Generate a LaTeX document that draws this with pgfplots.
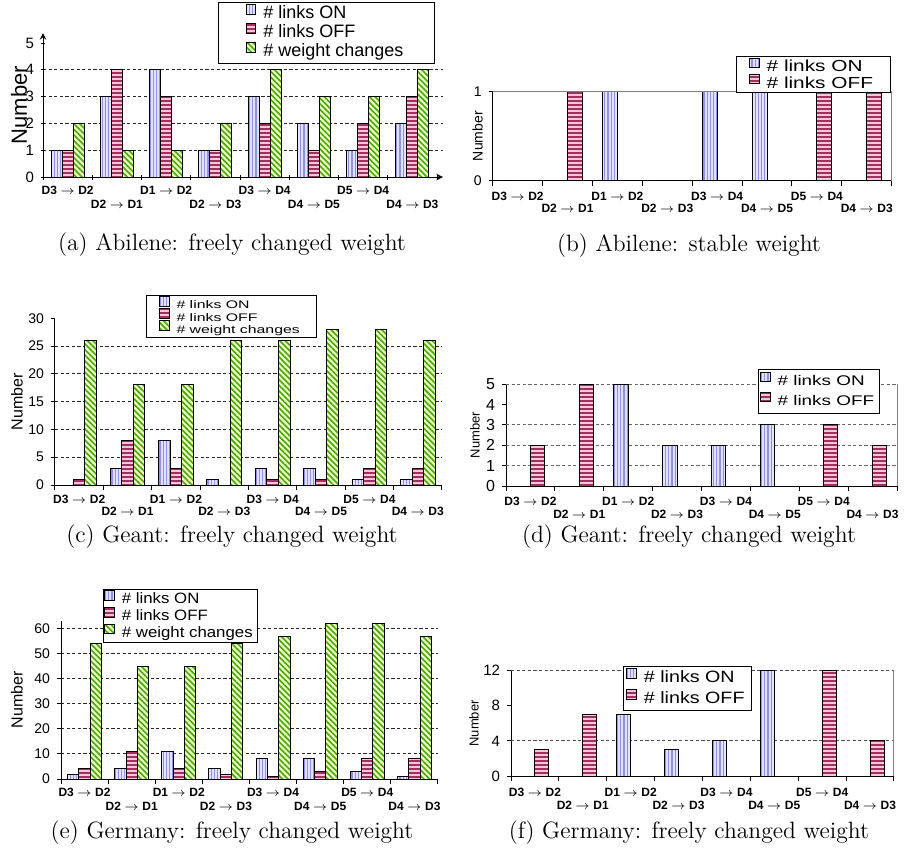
\documentclass[border=0pt]{standalone}
\usepackage{fontspec}
\usepackage{graphicx}
\usepackage{pgfplots}
\pgfplotsset{compat=1.18}
\usetikzlibrary{patterns.meta}
\newfontfamily\arial{Liberation Sans}
\definecolor{onfill}{HTML}{E2E2FF}
\definecolor{online}{HTML}{8F8FE8}
\definecolor{offfill}{HTML}{F4C8DA}
\definecolor{offline}{HTML}{A0305E}
\definecolor{wfill}{HTML}{F0FAC8}
\definecolor{wline}{HTML}{44AA00}
\newcommand{\rowdrop}{6pt}
\newcommand{\legstretch}{1}
\newcommand{\lab}[2]{\raisebox{0pt}[4.3pt][0pt]{#1 $\rightarrow$ #2}}
\newcommand{\lowlab}[2]{\raisebox{-\rowdrop}[4.3pt][0pt]{#1 $\rightarrow$ #2}}
\newcommand{\hs}[1]{\scalebox{\legstretch}[1]{#1}}
\pgfplotsset{
  legimg/.style={legend image code/.code={\draw[##1,/tikz/.cd,yshift=-0.2pt] (0pt,0pt) rectangle (4.8pt,4.8pt); \path (6.3pt,0pt);}},
  on/.style={draw=black, line width=0.5pt, fill=onfill, postaction={pattern={Lines[angle=90,distance=1.6pt,line width=0.55pt]}, pattern color=online}},
  off/.style={draw=black, line width=0.5pt, fill=offfill, postaction={pattern={Lines[angle=0,distance=2pt,line width=0.7pt]}, pattern color=offline}},
  wc/.style={draw=black, line width=0.5pt, fill=wfill, postaction={pattern={Lines[angle=-45,distance=2pt,line width=0.8pt]}, pattern color=wline}},
  ylab/.style={every axis y label/.style={at={([xshift=#1]rel axis cs:0,0.5)},rotate=90,anchor=center}},
  base/.style={
    scale only axis,
    ybar=0pt,
    xmin=-0.5, xmax=7.5, ymin=0,
    xtick={0,...,7},
    xticklabels={\lab{D3}{D2},\lowlab{D2}{D1},\lab{D1}{D2},\lowlab{D2}{D3},\lab{D3}{D4},\lowlab{D4}{D5},\lab{D5}{D4},\lowlab{D4}{D3}},
    minor xtick={-0.5,0.5,...,7.5},
    major x tick style={draw=none},
    minor x tick style={black, line width=0.5pt},
    minor tick length=2.5pt,
    major tick length=2pt,
    tick align=outside,
    ytick style={black, line width=0.5pt},
    xticklabel style={font=\arial\bfseries\fontsize{6}{7}\selectfont, anchor=north, inner sep=0pt},
    yticklabel style={font=\arial\fontsize{7}{8}\selectfont},
    /pgf/number format/assume math mode=true,
    ylabel={Number},
    axis line style={black, line width=0.5pt},
    legend cell align=left,
    legend style={draw=black, line width=0.5pt, fill=white},
    extra y tick style={grid=major},
    extra y tick labels={},
    major grid style={dash pattern=on 1.6pt off 1.2pt, black!85, line width=0.5pt},
    every axis plot post/.append style={legimg},
    clip=false,
  },
}
\newcommand{\capfont}{\fontsize{11.8}{14}\selectfont}
\begin{document}
\begin{tikzpicture}
\useasboundingbox (0,0) rectangle (452pt,-426.5pt);
% ---------------- (a)
\renewcommand{\rowdrop}{7pt}\renewcommand{\legstretch}{1}
\begin{axis}[base, at={(21.5pt,-88.5pt)}, anchor=south west,
  width=200pt, height=72pt, xmax=7.622, ymax=5.373, bar width=5.5pt,
  axis lines=left, ytick={0,...,5}, extra y ticks={1,2,3,4},
  ylab=-12pt, ylabel style={font=\arial\fontsize{11}{12}\selectfont},
  yticklabel style={font=\arial\fontsize{7.5}{8}\selectfont},
  xticklabel style={yshift=-3pt},
  legend style={at={(0.98,1.215)}, anchor=north east, font=\arial\fontsize{9}{10}\selectfont, inner xsep=13.5pt, inner ysep=0.75pt,
    nodes={inner ysep=0pt, text height=7pt, text depth=2.5pt}}]
\addplot[on] coordinates {(0,1)(1,3)(2,4)(3,1)(4,3)(5,2)(6,1)(7,2)};
\addplot[off] coordinates {(0,1)(1,4)(2,3)(3,1)(4,2)(5,1)(6,2)(7,3)};
\addplot[wc] coordinates {(0,2)(1,1)(2,1)(3,2)(4,4)(5,3)(6,3)(7,4)};
\legend{\hs{\# links ON},\hs{\# links OFF},\hs{\# weight changes}}
\end{axis}
% ---------------- (b)
\renewcommand{\rowdrop}{6pt}\renewcommand{\legstretch}{1.3}
\begin{axis}[base, at={(246.35pt,-90.35pt)}, anchor=south west,
  width=199.5pt, height=44.5pt, ymax=1, bar width=7.5pt,
  axis x line*=bottom, axis y line*=left, ytick={0,1},
  ylab=-7.5pt, ylabel style={font=\arial\fontsize{7}{8}\selectfont},
  xticklabel style={yshift=-3.5pt},
  legend style={at={(0.997,1.40)}, anchor=north east, font=\arial\fontsize{8}{9}\selectfont, inner xsep=6.5pt, inner ysep=0.5pt, row sep=-0.5pt,
    nodes={inner ysep=0pt, text height=6pt, text depth=1.5pt}}]
\addplot[on] coordinates {(0,0)(1,0)(2,1)(3,0)(4,1)(5,1)(6,0)(7,0)};
\addplot[off] coordinates {(0,0)(1,1)(2,0)(3,0)(4,0)(5,0)(6,1)(7,1)};
\legend{\hs{\# links ON},\hs{\# links OFF}}
\draw[gray, line width=0.5pt] (rel axis cs:0,1) -- (rel axis cs:1,1) -- (rel axis cs:1,0);
\end{axis}
% ---------------- (c)
\renewcommand{\rowdrop}{6pt}\renewcommand{\legstretch}{1.44}
\begin{axis}[base, at={(27.5pt,-242.5pt)}, anchor=south west,
  width=193.5pt, height=83.35pt, ymax=30, bar width=5.8pt,
  axis x line*=bottom, axis y line*=left, ytick={0,5,...,30}, extra y ticks={5,10,15,20,25},
  ylab=-19pt, ylabel style={font=\arial\fontsize{8}{9}\selectfont},
  xticklabel style={yshift=-2.75pt},
  legend style={at={(0.235,1.14)}, anchor=north west, font=\arial\fontsize{5.5}{6}\selectfont, inner xsep=6.25pt, inner ysep=0.3pt, row sep=-2pt,
    nodes={inner ysep=0pt, text height=4.8pt, text depth=1.7pt}}]
\addplot[on] coordinates {(0,0)(1,3)(2,8)(3,1)(4,3)(5,3)(6,1)(7,1)};
\addplot[off] coordinates {(0,1)(1,8)(2,3)(3,0)(4,1)(5,1)(6,3)(7,3)};
\addplot[wc] coordinates {(0,26)(1,18)(2,18)(3,26)(4,26)(5,28)(6,28)(7,26)};
\legend{\hs{\# links ON},\hs{\# links OFF},\hs{\# weight changes}}
\end{axis}
% ---------------- (d)
\renewcommand{\rowdrop}{6.5pt}\renewcommand{\legstretch}{1.35}
\begin{axis}[base, at={(253pt,-243pt)}, anchor=south west,
  width=195.5pt, height=50.85pt, ymax=5, bar width=7.1pt,
  axis x line*=bottom, axis y line*=left, ytick={0,...,5}, extra y ticks={1,2,3,5},
  major grid style={dash pattern=on 1.6pt off 1.2pt, black!60, line width=0.5pt},
  ylab=-15.5pt, ylabel style={font=\arial\fontsize{6.5}{7}\selectfont},
  yticklabel style={font=\arial\fontsize{8}{9}\selectfont},
  xticklabel style={yshift=-3pt},
  legend style={at={(0.957,1.15)}, anchor=north east, font=\arial\fontsize{7}{8}\selectfont, inner xsep=0.75pt, inner ysep=1pt,
    nodes={inner ysep=0pt, text height=7pt, text depth=3pt}}]
\addplot[on] coordinates {(0,0)(1,0)(2,5)(3,2)(4,2)(5,3)(6,0)(7,0)};
\addplot[off] coordinates {(0,2)(1,5)(2,0)(3,0)(4,0)(5,0)(6,3)(7,2)};
\legend{\hs{\# links ON},\hs{\# links OFF}}
\draw[gray, line width=0.5pt] (rel axis cs:1,1) -- (rel axis cs:1,0);
\end{axis}
% ---------------- (e)
\renewcommand{\rowdrop}{7pt}\renewcommand{\legstretch}{1.12}
\begin{axis}[base, at={(30.5pt,-389.5pt)}, anchor=south west,
  width=188.5pt, height=79.15pt, ymax=63.1, bar width=5.65pt,
  axis x line*=bottom, axis y line*=left, ytick={0,10,...,60}, extra y ticks={10,20,30,40,50,60},
  ylab=-22pt, ylabel style={font=\arial\fontsize{8}{9}\selectfont},
  xticklabel style={yshift=-2pt},
  legend style={at={(0.111,1.2)}, anchor=north west, font=\arial\fontsize{7.5}{8}\selectfont, inner xsep=0.5pt, inner ysep=0.25pt, row sep=-0.4pt,
    nodes={inner ysep=0pt, text height=5.8pt, text depth=2.2pt}}]
\addplot[on] coordinates {(0,2)(1,4)(2,11)(3,4)(4,8)(5,8)(6,3)(7,1)};
\addplot[off] coordinates {(0,4)(1,11)(2,4)(3,2)(4,1)(5,3)(6,8)(7,8)};
\addplot[wc] coordinates {(0,54)(1,45)(2,45)(3,54)(4,57)(5,62)(6,62)(7,57)};
\legend{\hs{\# links ON},\hs{\# links OFF},\hs{\# weight changes}}
\end{axis}
% ---------------- (f)
\renewcommand{\rowdrop}{6.5pt}\renewcommand{\legstretch}{1.2}
\begin{axis}[base, at={(255.5pt,-388pt)}, anchor=south west,
  width=191.5pt, height=52.65pt, ymax=12, bar width=7pt,
  axis x line*=bottom, axis y line*=left, ytick={0,4,8,12}, extra y ticks={4,12},
  major grid style={dash pattern=on 1.6pt off 1.2pt, black!70, line width=0.5pt},
  ylab=-18.5pt, ylabel style={font=\arial\fontsize{6.5}{7}\selectfont},
  yticklabel style={font=\arial\fontsize{7.5}{8}\selectfont},
  xticklabel style={yshift=-3.5pt},
  legend style={at={(0.292,1.045)}, anchor=north west, font=\arial\fontsize{8.2}{9}\selectfont, inner xsep=1.5pt, inner ysep=0.5pt,
    nodes={inner ysep=0pt, text height=7.3pt, text depth=3.2pt}}]
\addplot[on] coordinates {(0,0)(1,0)(2,7)(3,3)(4,4)(5,12)(6,0)(7,0)};
\addplot[off] coordinates {(0,3)(1,7)(2,0)(3,0)(4,0)(5,0)(6,12)(7,4)};
\legend{\hs{\# links ON},\hs{\# links OFF}}
\draw[gray, line width=0.5pt] (rel axis cs:1,1) -- (rel axis cs:1,0);
\end{axis}
% ---------------- captions
\node[font=\capfont] at (116pt,-122.5pt) {(a) Abilene: freely changed weight};
\node[font=\capfont] at (344.5pt,-123pt) {(b) Abilene: stable weight};
\node[font=\capfont] at (116pt,-268.5pt) {(c) Geant: freely changed weight};
\node[font=\capfont] at (344.5pt,-268.5pt) {(d) Geant: freely changed weight};
\node[font=\capfont] at (116pt,-416.5pt) {(e) Germany: freely changed weight};
\node[font=\capfont] at (344.5pt,-416.5pt) {(f) Germany: freely changed weight};
\end{tikzpicture}
\end{document}
